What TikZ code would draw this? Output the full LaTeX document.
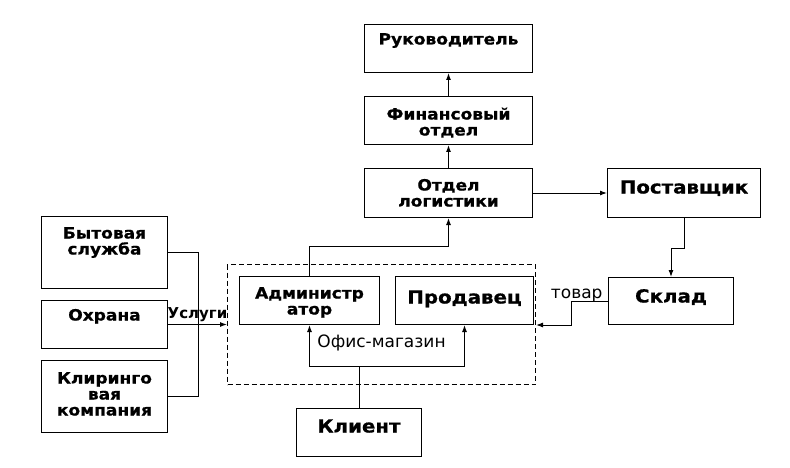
\documentclass[tikz,border=0pt]{standalone}
\usepackage{fontspec}
\usetikzlibrary{arrows.meta}
\newfontfamily\bxfont{DejaVu Sans}[FakeStretch=1.1, FakeBold=0.8]
\newfontfamily\lbfont{DejaVu Sans}
\tikzset{
  blk/.style={draw, line width=1pt, inner sep=0pt, anchor=north west, align=center},
  sm/.style={font=\bxfont\bfseries\fontsize{15.5}{16}\selectfont},
  bg/.style={font=\bxfont\bfseries\fontsize{18}{20}\selectfont},
  sz/.style n args={3}{minimum width=#1pt, text height=#2pt, text depth=#3pt},
  arr/.style={-{Latex[length=7pt,width=5pt]}},
  lbl/.style={font=\lbfont\fontsize{17}{18}\selectfont, inner sep=1pt}
}
\begin{document}
\begin{tikzpicture}[x=1pt, y=-1pt, line width=1pt]
\useasboundingbox (0,0) rectangle (790,468);
% top chain
\node[blk,sm,sz={168}{20}{28}] (ruk) at (364,24) {Руководитель};
\node[blk,sm,sz={168}{39}{9}] (fin) at (364,96) {Финансовый\\отдел};
\node[blk,sm,sz={168}{38}{11}] (log) at (364,168) {Отдел\\логистики};
\node[blk,bg,sz={153}{25}{24}] (post) at (607,168) {Поставщик};
\node[blk,bg,sz={125}{25}{22}] (sklad) at (608,277) {Склад};
% office
\node[blk,lbl,dash pattern=on 5pt off 3pt,inner sep=0pt,sz={308}{83}{37}] (ofis) at (227,264) {Офис-магазин};
\node[blk,sm,sz={140}{38}{10}] (adm) at (239,276) {Администр\\атор};
\node[blk,bg,sz={138}{27}{21}] (prod) at (395,276) {Продавец};
\node[blk,bg,sz={125}{24}{24}] (kli) at (296,408) {Клиент};
% services
\node[blk,sm,sz={126}{38}{34}] (byt) at (41,216) {Бытовая\\служба};
\node[blk,sm,sz={126}{20}{28}] (ohr) at (41,300) {Охрана};
\node[blk,sm,sz={126}{55}{17}] (klir) at (41,360) {Клиринго\\вая\\компания};
% links
\draw[arr] (fin.north) -- (ruk.south);
\draw[arr] (log.north) -- (fin.south);
\draw[arr] (log.east) -- (post.west);
\draw[arr] (post.south) -- ++(0,30) -| (sklad.north);
\draw[arr] (sklad.west) node[lbl,anchor=base east,xshift=-4pt,yshift=3pt]{товар} -- ++(-37,0) |- (ofis.east |- prod.south);
\draw[arr] (adm.north) -- ++(0,-30) -| (log.south);
\draw[arr] (kli.north) -- ++(0,-42) -| (adm.south);
\draw[arr] (kli.north) ++(0,-42) -| (prod.south);
\draw (byt.east) -- ++(30,0) |- (klir.east);
\draw[arr] (ohr.east) -- node[above,inner sep=2pt,font=\lbfont\bfseries\fontsize{15}{16}\selectfont]{Услуги} (ohr.east -| ofis.west);
\end{tikzpicture}
\end{document}
